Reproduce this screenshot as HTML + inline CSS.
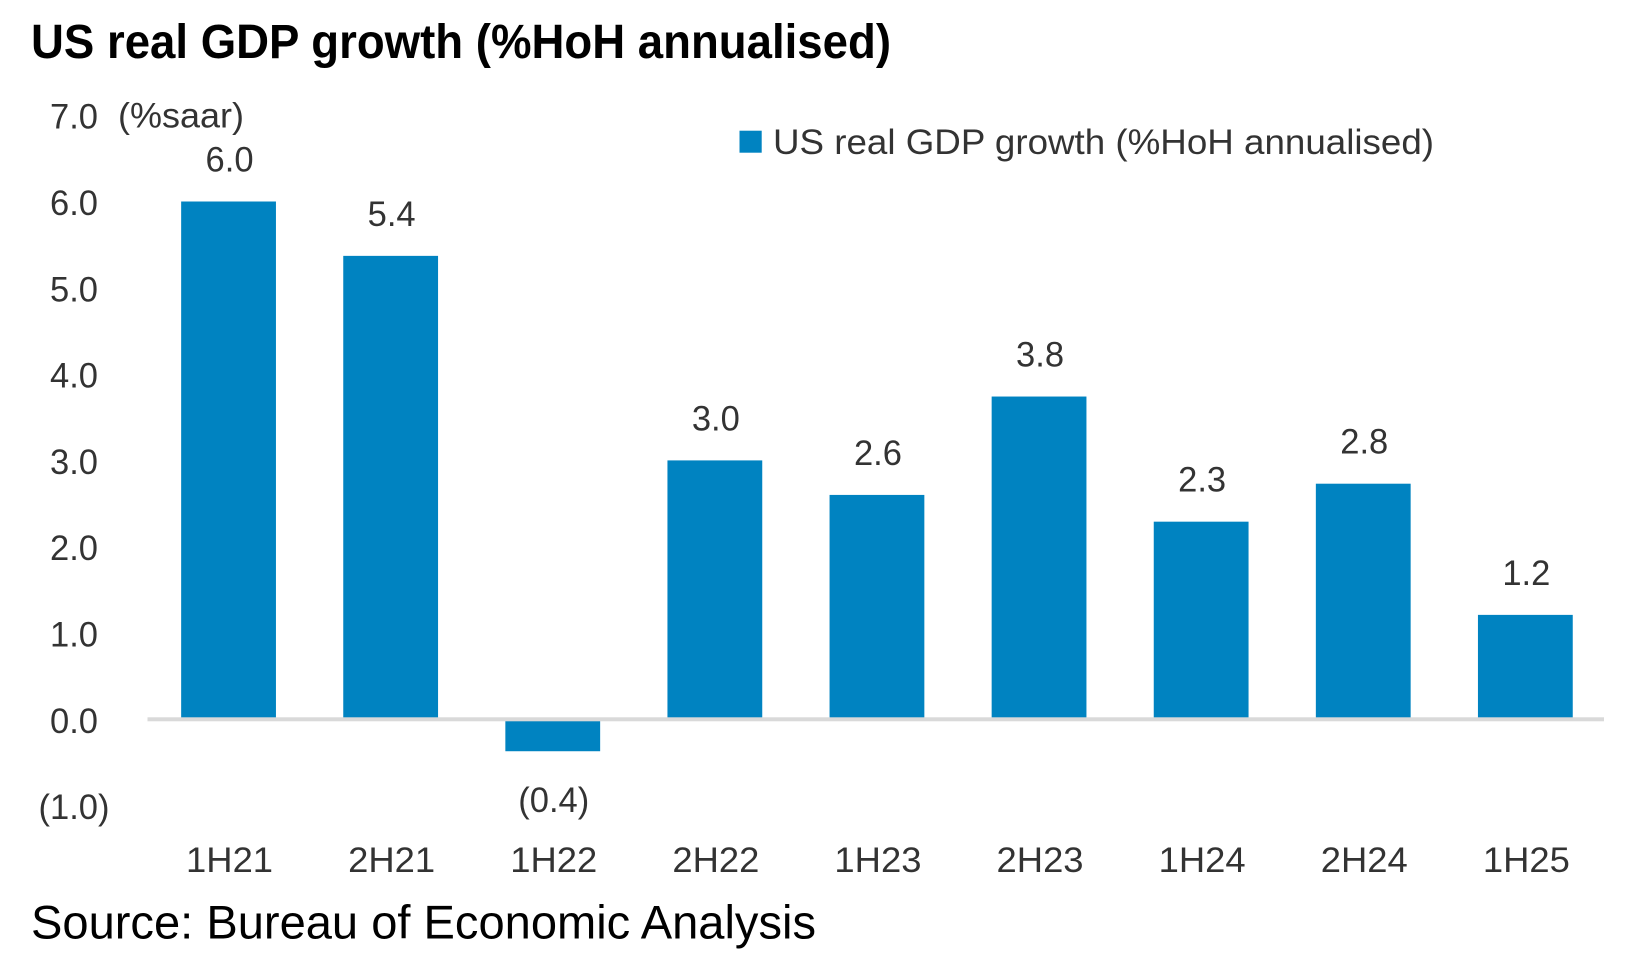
<!DOCTYPE html>
<html lang="en">
<head>
<meta charset="utf-8">
<title>US real GDP growth (%HoH annualised)</title>
<style>
html,body{margin:0;padding:0;background:#fff;width:1627px;height:954px;overflow:hidden}
svg{display:block}
text{font-family:"Liberation Sans",Arial,sans-serif}
.lab{fill:#333;font-size:35px}
</style>
</head>
<body>
<svg id="chart" xmlns="http://www.w3.org/2000/svg" width="1627" height="954" viewBox="0 0 1627 954">
  <rect x="0" y="0" width="1627" height="954" fill="#ffffff"/>
  <text x="31" y="58" font-size="48" font-weight="700" fill="#000" textLength="860" lengthAdjust="spacingAndGlyphs">US real GDP growth (%HoH annualised)</text>
  <text class="lab" x="118" y="127.5" textLength="126" lengthAdjust="spacingAndGlyphs">(%saar)</text>
  <rect x="739.5" y="130.7" width="22.2" height="22" fill="#0083c1"/>
  <text class="lab" x="773" y="154" textLength="661" lengthAdjust="spacingAndGlyphs">US real GDP growth (%HoH annualised)</text>
  <g id="y-ticks"></g>
  <g id="bars"></g>
  <g id="values"></g>
  <g id="cats"></g>
  <rect id="axis" height="4" fill="#d9d9d9"/>
  <text x="31" y="938.5" font-size="47" fill="#000" textLength="785" lengthAdjust="spacingAndGlyphs">Source: Bureau of Economic Analysis</text>
</svg>
<script>
const categories = ["1H21","2H21","1H22","2H22","1H23","2H23","1H24","2H24","1H25"];
const gdpGrowth = [6.0,5.37,-0.37,3.0,2.6,3.74,2.29,2.73,1.21];
const valueLabels = ["6.0","5.4","(0.4)","3.0","2.6","3.8","2.3","2.8","1.2"];
const yTickValues = [7,6,5,4,3,2,1,0,-1];
const yTickLabels = ["7.0","6.0","5.0","4.0","3.0","2.0","1.0","0.0","(1.0)"];

const NS = "http://www.w3.org/2000/svg";
const plotLeft = 147.5, plotRight = 1604, zeroY = 719.3, unitPx = 86.3;
const band = 162.1;
const barWidth = 94.8;
function xCenter(i){ return plotLeft + band * (i + 0.5); }
function yScale(v){ return zeroY - v * unitPx; }
function numWidth(s){ return s.length > 3 ? 71 : 48; }

const axis = document.getElementById("axis");
axis.setAttribute("x", plotLeft);
axis.setAttribute("y", zeroY - 2);
axis.setAttribute("width", plotRight - plotLeft);

const tickGroup = document.getElementById("y-ticks");
yTickValues.forEach(function(v, i){
  const t = document.createElementNS(NS, "text");
  
  
  t.setAttribute("class", "lab");
  t.setAttribute("x", 74 - numWidth(yTickLabels[i]) / 2);
  t.setAttribute("y", yScale(v) + 13.5);
  t.setAttribute("textLength", numWidth(yTickLabels[i]));
  t.setAttribute("lengthAdjust", "spacingAndGlyphs");
  t.textContent = yTickLabels[i];
  tickGroup.appendChild(t);
});

const barGroup = document.getElementById("bars");
const valueGroup = document.getElementById("values");
const catGroup = document.getElementById("cats");
categories.forEach(function(c, i){
  const v = gdpGrowth[i];
  const r = document.createElementNS(NS, "rect");
  
  
  r.setAttribute("x", xCenter(i) - barWidth / 2);
  r.setAttribute("y", Math.min(yScale(v), zeroY));
  r.setAttribute("width", barWidth);
  r.setAttribute("height", Math.abs(yScale(v) - zeroY));
  r.setAttribute("fill", "#0083c1");
  barGroup.appendChild(r);

  const t = document.createElementNS(NS, "text");
  
  
  t.setAttribute("class", "lab");
  t.setAttribute("x", xCenter(i) + 1 - numWidth(valueLabels[i]) / 2);
  t.setAttribute("y", v >= 0 ? yScale(v) - 30 : yScale(v) + 61);
  t.setAttribute("textLength", numWidth(valueLabels[i]));
  t.setAttribute("lengthAdjust", "spacingAndGlyphs");
  t.textContent = valueLabels[i];
  valueGroup.appendChild(t);

  const l = document.createElementNS(NS, "text");
  
  
  l.setAttribute("class", "lab");
  l.setAttribute("x", xCenter(i) + 1 - 43.5);
  l.setAttribute("y", 872);
  l.setAttribute("textLength", 87);
  l.setAttribute("lengthAdjust", "spacingAndGlyphs");
  l.textContent = c;
  catGroup.appendChild(l);
});
</script>
</body>
</html>
